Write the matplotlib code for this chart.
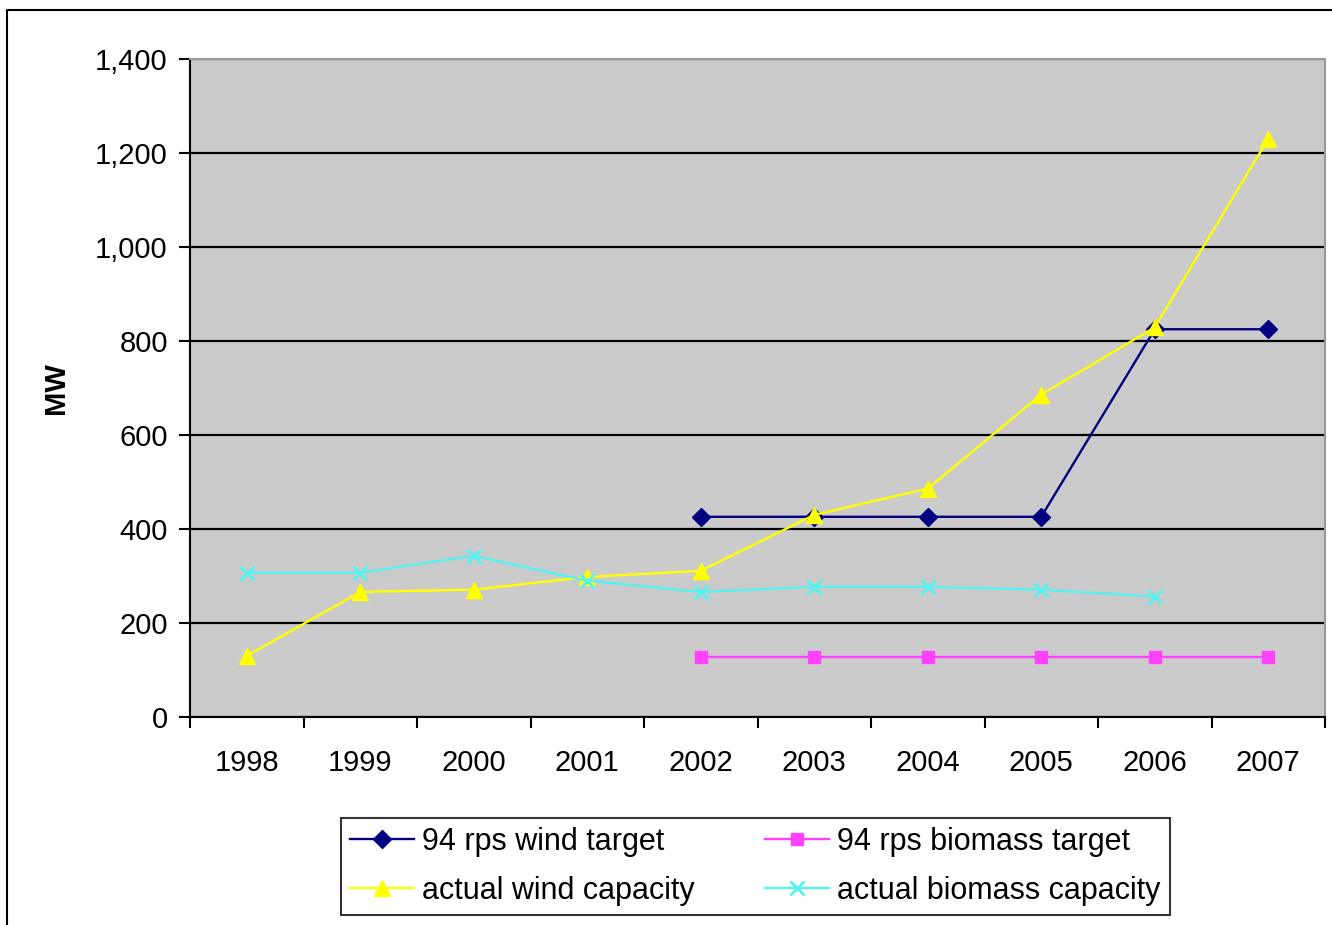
import matplotlib
matplotlib.use("Agg")
import matplotlib.pyplot as plt
from matplotlib.lines import Line2D
import numpy as np

plt.rcParams['font.family'] = ['Liberation Sans', 'DejaVu Sans']

years = ['1998', '1999', '2000', '2001', '2002', '2003', '2004', '2005', '2006', '2007']
wind_target = [None, None, None, None, 426, 426, 426, 426, 825, 825]
biomass_target = [None, None, None, None, 128, 128, 128, 128, 128, 128]
actual_wind = [130, 266, 271, 298, 311, 430, 486, 686, 829, 1230]
actual_biomass = [307, 307, 343, 290, 266, 277, 277, 271, 256, None]

series = [
    ("94 rps wind target", wind_target, "#000080", "D", 9),
    ("actual wind capacity", actual_wind, "#FFFF00", "^", 11),
    ("94 rps biomass target", biomass_target, "#FF40FF", "s", 8),
    ("actual biomass capacity", actual_biomass, "#55F2F2", "x", 10),
]

FS = 21

fig = plt.figure(figsize=(13.32, 9.25), dpi=100)
ax = fig.add_axes([190 / 1332, 1 - 717 / 925, (1325 - 190) / 1332, (717 - 59) / 925])
ax.set_facecolor("#CBCBCB")

x = np.arange(len(years))
handles = []
for label, vals, color, marker, ms in series:
    y = np.array([np.nan if v is None else v for v in vals], dtype=float)
    mew = 2 if marker == "x" else 1
    h, = ax.plot(x, y, color=color, lw=1.7, marker=marker, markersize=ms,
                 markerfacecolor=color, markeredgecolor=color, markeredgewidth=mew,
                 label=label, zorder=3)
    handles.append(h)

ax.set_xlim(-0.5, len(years) - 0.5)
ax.set_ylim(0, 1400)
ax.set_yticks(np.arange(0, 1401, 200))
ax.set_yticklabels([f"{v:,}" for v in range(0, 1401, 200)], fontsize=FS)
ax.yaxis.grid(True, color="black", lw=1.6, zorder=1)
ax.set_axisbelow(True)

ax.set_xticks(np.arange(-0.5, len(years), 1.0))
ax.set_xticklabels([])
ax.set_xticks(x, minor=True)
ax.set_xticklabels(years, minor=True, fontsize=FS)
ax.tick_params(axis='x', which='minor', length=0, pad=23)
ax.tick_params(axis='x', which='major', length=8, width=1.5, direction='out')
ax.tick_params(axis='y', length=8, width=1.5, direction='out', pad=8)

for side in ("top", "right"):
    ax.spines[side].set_color("#999999")
    ax.spines[side].set_linewidth(1.5)
for side in ("left", "bottom"):
    ax.spines[side].set_color("black")
    ax.spines[side].set_linewidth(1.5)

ax.set_ylabel("MW", fontsize=FS, fontweight="bold", labelpad=18)

leg = fig.legend([handles[0], handles[1], handles[2], handles[3]],
                 [s[0] for s in series], ncol=2, loc="center",
                 bbox_to_anchor=(755.5 / 1332, 1 - 866.5 / 925),
                 fontsize=22, frameon=True, fancybox=False, edgecolor="black",
                 handlelength=2.1, columnspacing=2.3, borderpad=0.3,
                 labelspacing=0.62, handletextpad=0.26, borderaxespad=0)
leg.get_frame().set_linewidth(1.5)

fig.add_artist(Line2D([7 / 1332, 7 / 1332, 1.0], [0.0, 1 - 10 / 925, 1 - 10 / 925],
                      transform=fig.transFigure, color="black", lw=1.5))

fig.savefig("out.png", dpi=100, facecolor="white")
